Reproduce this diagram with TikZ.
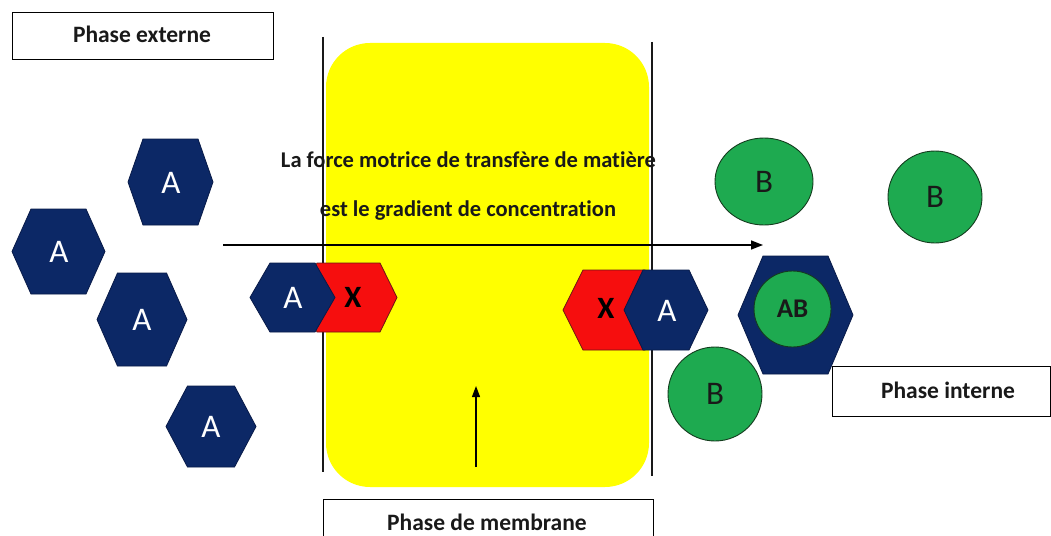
\documentclass[tikz,border=0pt]{standalone}
\usepackage{fontspec}
\setmainfont{Carlito}[Ligatures=NoCommon]
\usetikzlibrary{arrows.meta,shapes.geometric}

\definecolor{navy}{RGB}{12,40,102}
\definecolor{navyedge}{RGB}{8,26,72}
\definecolor{xred}{RGB}{246,14,14}
\definecolor{xrededge}{RGB}{110,20,20}
\definecolor{bgreen}{RGB}{30,170,80}
\definecolor{bgreenedge}{RGB}{20,60,30}
\definecolor{memyellow}{RGB}{255,255,0}
\definecolor{ink}{RGB}{25,25,25}

% hexagon with flat top and bottom:
% #1 style, #2/#3 centre, #4 half width, #5 corner inset, #6 half height
\newcommand\hexa[6]{%
  \filldraw[#1] ({#2-#4},#3) -- ({#2-#4+#5},{#3-#6}) -- ({#2+#4-#5},{#3-#6})
    -- ({#2+#4},#3) -- ({#2+#4-#5},{#3+#6}) -- ({#2-#4+#5},{#3+#6}) -- cycle;}

\tikzset{
  hexA/.style={fill=navy, draw=navyedge, line width=0.8pt},
  hexX/.style={fill=xred, draw=xrededge, line width=0.8pt},
  ball/.style={ellipse, fill=bgreen, draw=bgreenedge, line width=0.9pt, inner sep=0pt,
    text=ink, font=\fontsize{33}{36}\selectfont},
  alabel/.style={text=white, font=\fontsize{33}{36}\selectfont, inner sep=0pt},
  xlabel/.style={text=black, font=\fontsize{31}{34}\selectfont\bfseries, inner sep=0pt},
  boxframe/.style={draw=black, fill=white, line width=1.2pt, inner sep=0pt},
  boxtext/.style={text=ink, font=\fontsize{23.5}{27}\selectfont\bfseries, inner sep=0pt, anchor=base},
  maintext/.style={text=ink, font=\fontsize{22.5}{26}\selectfont\bfseries, inner sep=0pt, anchor=base},
  wall/.style={draw=ink, line width=1.4pt},
  flow/.style={draw=black, line width=1.4pt, -{Triangle[length=12pt,width=9pt]}},
}

\begin{document}
\begin{tikzpicture}[x=1pt, y=-1pt]
  \clip (0,0) rectangle (1051,535);
  \fill[white] (0,0) rectangle (1051,535);

  % membrane
  \fill[memyellow, rounded corners=44pt] (326,43) rectangle (649,487);
  \coordinate (wl1) at (323,37);  \coordinate (wl2) at (323,472);
  \coordinate (wr1) at (652,42);  \coordinate (wr2) at (652,476);
  \draw[wall] (wl1) -- (wl2);
  \draw[wall] (wr1) -- (wr2);

  % caption and driving-force arrow
  \node[maintext] (t1) at (468.5,167) {La force motrice de transfère de matière};
  \node[maintext] (t2) at (468,216) {est le gradient de concentration};
  \coordinate (fs) at (223,245);
  \coordinate (fe) at (763,245);
  \draw[flow] (fs) -- (fe);

  \coordinate (us) at (476,467);
  \coordinate (ue) at (476,386);
  \draw[flow, line width=1.2pt, -{Triangle[length=11pt,width=8pt]}] (us) -- (ue);

  % free solute A in the external phase
  \hexa{hexA}{170.5}{182}{42.5}{15}{43}
  \node[alabel] (a1) at (171,183) {A};
  \hexa{hexA}{58.5}{251.5}{46.5}{19}{42.5}
  \node[alabel] (a2) at (59,252) {A};
  \hexa{hexA}{142}{319.5}{45}{20.5}{46.5}
  \node[alabel] (a3) at (142,320) {A};
  \hexa{hexA}{211}{426.5}{45}{21.5}{40.5}
  \node[alabel] (a4) at (211,427) {A};

  % carrier complex at the external interface
  \hexa{hexX}{348.5}{297.5}{48.5}{17}{34.5}
  \node[xlabel] (x1) at (353,297) {X};
  \hexa{hexA}{292.5}{297.5}{42.5}{20}{34.5}
  \node[alabel] (a5) at (293,298) {A};

  % carrier complex at the internal interface
  \hexa{hexX}{614}{310}{51}{20}{40}
  \node[xlabel] (x2) at (606,308) {X};
  \hexa{hexA}{666}{310}{42}{19}{40}
  \node[alabel] (a6) at (667,311) {A};

  % internal phase: stripping agent B and product AB
  \node[ball, minimum width=98pt, minimum height=87pt] (b1) at (764,181.5) {B};
  \node[ball, minimum width=94pt, minimum height=92pt] (b2) at (935,197) {B};
  \node[ball, minimum width=94pt, minimum height=94pt] (b3) at (715,394) {B};
  \hexa{hexA}{795.5}{315}{57.5}{25}{59}
  \node[ball, minimum width=77pt, minimum height=76pt,
        font=\fontsize{27}{30}\selectfont\bfseries] (ab) at (792.5,309) {AB};

  % phase labels
  \node[boxframe, minimum width=261pt, minimum height=47pt, anchor=north west] (pebox) at (12,12) {};
  \node[boxtext] (pe) at (142,43) {Phase externe};
  \node[boxframe, minimum width=218pt, minimum height=50pt, anchor=north west] (pibox) at (832,366) {};
  \node[boxtext] (pi) at (948,398) {Phase interne};
  \node[boxframe, minimum width=330pt, minimum height=60pt, anchor=north west] (pmbox) at (323,499) {};
  \node[boxtext] (pm) at (487,530) {Phase de membrane};
\end{tikzpicture}
\end{document}
